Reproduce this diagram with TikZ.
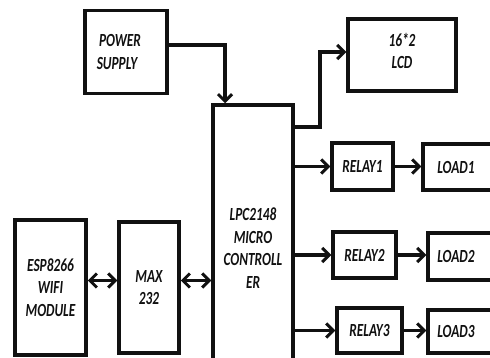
\documentclass[tikz,border=0pt]{standalone}
\usepackage{fontspec}
\setmainfont{Carlito}[FakeStretch=0.72]
\usetikzlibrary{arrows.meta,calc,positioning}
\definecolor{Ink}{HTML}{111111}
\begin{document}
\begin{tikzpicture}[x=1pt,y=-1pt,every node/.style={font=\fontsize{18.5}{22.5}\selectfont\bfseries\itshape,text=Ink,align=center},block/.style={draw=Ink,line width=3.5pt,inner sep=0pt},arrow/.style={-{Straight Barb[length=7pt,width=14pt,line width=3pt]},line width=3.5pt,draw=Ink},duplex/.style={{Straight Barb[length=7pt,width=14pt,line width=3pt]}-{Straight Barb[length=7pt,width=14pt,line width=3pt]},line width=3.5pt,draw=Ink}]
\useasboundingbox (0,0) rectangle (490,358);
\clip (0,0) rectangle (490,358);
\fill[white] (0,0) rectangle (490,358);

\node[block,minimum width=82pt,minimum height=83pt] (power) at (126,52) {POWER\hspace*{12pt}\\SUPPLY\hspace*{18pt}};
\node[block,minimum width=108pt,minimum height=72pt] (lcd) at (402,55) {16*2\\LCD\\[-14pt]\mbox{}};
\node[block,minimum width=80pt,minimum height=286pt] (mcu) at (253,248) {LPC2148\\MICRO\\CONTROLL\\ER};
\node[block,minimum width=71pt,minimum height=135pt] (esp) at (50.5,287.5) {ESP8266\\WIFI\\MODULE};
\node[block,minimum width=60pt,minimum height=131pt] (max) at (149,287.5) {MAX\\232};
\node[block,minimum width=61pt,minimum height=47pt] (relay1) at (362.5,166.5) {RELAY1};
\node[block,minimum width=63pt,minimum height=46pt] (relay2) at (364.5,255) {RELAY2};
\node[block,minimum width=65pt,minimum height=45pt] (relay3) at (369.5,330.5) {RELAY3};
\node[block,minimum width=72pt,minimum height=46pt] (load1) at (459,167) {LOAD1\hspace*{6pt}};
\node[block,minimum width=72pt,minimum height=47pt] (load2) at (464,256.5) {LOAD2\hspace*{16pt}};
\node[block,minimum width=72pt,minimum height=43pt] (load3) at (464,331.5) {LOAD3\hspace*{16pt}};
\coordinate (link) at ([yshift=7pt]max.east);

\draw[arrow] ([yshift=7pt]power.east) -| ([xshift=-28pt]mcu.north);
\draw[arrow] ([yshift=121pt]mcu.east) -- ++(25,0) |- ([yshift=3pt]lcd.west);
\draw[arrow] (mcu.east |- relay1.west) -- (relay1.west); \draw[arrow] (relay1) -- (load1.west |- relay1);
\draw[arrow] (mcu.east |- relay2.west) -- (relay2.west); \draw[arrow] (relay2) -- (load2.west |- relay2);
\draw[arrow] (mcu.east |- relay3.west) -- (relay3.west); \draw[arrow] (relay3) -- (load3.west |- relay3);
\draw[duplex] ([yshift=7pt]esp.east) -- ([yshift=7pt]max.west);
\draw[duplex] (link) -- (mcu.west |- link);

\end{tikzpicture}
\end{document}
